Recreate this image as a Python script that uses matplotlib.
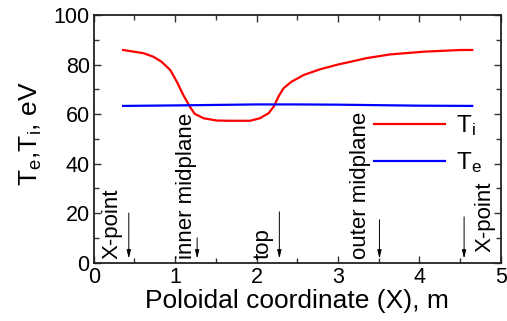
import matplotlib
matplotlib.use("Agg")
import matplotlib.pyplot as plt
from matplotlib.ticker import MultipleLocator

plt.rcParams['font.family'] = ['Liberation Sans', 'DejaVu Sans']
plt.rcParams['mathtext.fontset'] = 'custom'
plt.rcParams['mathtext.rm'] = 'Liberation Sans'
plt.rcParams['mathtext.it'] = 'Liberation Sans'

ti_x = [0.36, 0.61, 0.73, 0.83, 0.94, 1.02, 1.10, 1.18, 1.24, 1.35, 1.51, 1.65,
        1.92, 2.04, 2.15, 2.21, 2.27, 2.33, 2.43, 2.58, 2.78, 3.01, 3.15, 3.35,
        3.64, 4.05, 4.51, 4.65]
ti_y = [85.9, 84.6, 83.2, 81.2, 77.8, 73.1, 67.7, 63.0, 60.1, 58.3, 57.4, 57.3,
        57.3, 58.3, 60.4, 63.0, 67.1, 70.4, 73.1, 75.8, 78.1, 80.1, 81.1, 82.6,
        84.1, 85.2, 85.9, 85.9]
te_x = [0.36, 1.0, 1.5, 2.0, 2.5, 3.0, 3.5, 4.0, 4.65]
te_y = [63.3, 63.5, 63.7, 63.9, 63.9, 63.8, 63.6, 63.4, 63.3]

labels = ["X-point", "inner midplane", "top", "outer midplane", "X-point"]
label_x = [0.22, 1.145, 2.08, 3.28, 4.81]
label_y = [1.6, 1.6, 1.6, 1.6, 4.4]
arrow_x = [0.43, 1.27, 2.28, 3.51, 4.55]
arrow_top = [20.0, 10.0, 20.5, 17.3, 18.5]
arrow_tip = [1.6, 1.6, 1.6, 1.6, 1.6]

fig = plt.figure(figsize=(5.07, 3.21), dpi=100)
ax = fig.add_axes([0.185, 0.182, 0.8026, 0.771])

ax.plot(ti_x, ti_y, color='#ff0000', lw=1.6, label=r'T$_\mathregular{i}$')
ax.plot(te_x, te_y, color='#0000ff', lw=1.6, label=r'T$_\mathregular{e}$')

for t, lx, ly in zip(labels, label_x, label_y):
    ax.text(lx, ly, t, rotation=90, ha='center', va='bottom', fontsize=16)
for axx, top, tip in zip(arrow_x, arrow_top, arrow_tip):
    ax.annotate('', xy=(axx, tip), xytext=(axx, top),
                arrowprops=dict(arrowstyle='-|>,head_length=0.5,head_width=0.12',
                                color='black', lw=0.7, shrinkA=0, shrinkB=0))

ax.set_xlim(0, 5)
ax.set_ylim(0, 100)
ax.xaxis.set_major_locator(MultipleLocator(1))
ax.xaxis.set_minor_locator(MultipleLocator(0.5))
ax.yaxis.set_major_locator(MultipleLocator(20))
ax.yaxis.set_minor_locator(MultipleLocator(10))
ax.tick_params(which='both', direction='in', top=True, right=True, labelsize=15.5,
               width=1.0, color='#333333', pad=3)
ax.tick_params(which='major', length=5)
ax.tick_params(which='minor', length=3.5)
for s in ax.spines.values():
    s.set_linewidth(1.3)
    s.set_color('#222222')

ax.set_xlabel('Poloidal coordinate (X), m', fontsize=19, labelpad=1)
ax.set_ylabel(r'T$_\mathregular{e}$,T$_\mathregular{i}$, eV', fontsize=19)
ax.yaxis.set_label_coords(-0.122, 0.52)

ax.legend(loc='center left', bbox_to_anchor=(0.688, 0.478), frameon=False,
          fontsize=17.5, handlelength=2.95, handletextpad=0.45, labelspacing=0.5,
          borderaxespad=0, borderpad=0)

fig.savefig('out.png', dpi=100)
